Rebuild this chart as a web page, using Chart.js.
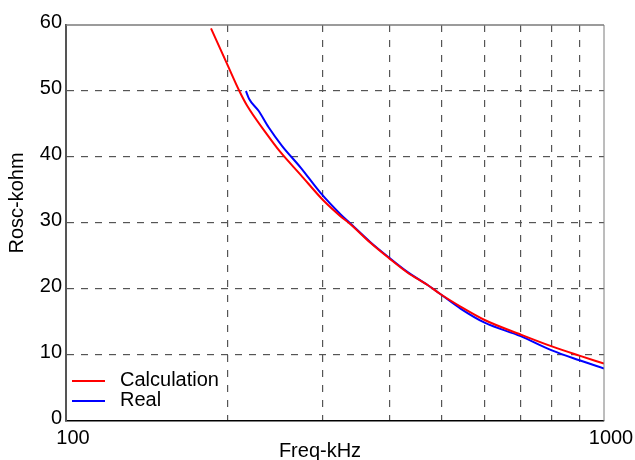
<!DOCTYPE html>
<html>
<head>
<meta charset="utf-8">
<script src="https://cdn.jsdelivr.net/npm/chart.js@4/dist/chart.umd.min.js"></script>
<style>
    html, body { margin: 0; padding: 0; background: #fff; }
    #wrap { width: 635px; height: 460px; }
</style>
</head>
<body>
<div id="wrap"><canvas id="oscChart"></canvas></div>
<script>
// Calculation curve (red)
const calcFreq = [186, 200, 210, 217, 236, 250, 273, 301, 324, 337, 368, 398, 431, 470, 497, 542, 600, 700, 800, 900, 1000];
const calcR = [59.5, 53.8, 50.0, 47.8, 43.5, 40.8, 37.3, 33.4, 31.0, 29.9, 27.0, 24.7, 22.5, 20.6, 19.2, 17.3, 15.3, 13.1, 11.3, 9.9, 8.7];

// Real measurement (blue)
const realFreq = [216, 219, 228, 238, 252, 273, 297, 324, 337, 368, 398, 431, 470, 497, 542, 600, 700, 800, 900, 1000];
const realR = [50.0, 48.8, 47.0, 44.5, 41.7, 38.4, 34.6, 31.3, 30.0, 27.1, 24.8, 22.6, 20.6, 19.2, 17.0, 14.9, 12.85, 10.7, 9.2, 7.95];

// Axis ticks
const freqTicks = [100, 200, 300, 400, 500, 600, 700, 800, 900, 1000];
const freqLabels = [100, 1000];
const rTicks = [0, 10, 20, 30, 40, 50, 60];

const FONT = "'Liberation Sans', Arial, Helvetica, sans-serif";

function toPoints(xs, ys) {
    return xs.map((x, i) => ({ x: x, y: ys[i] }));
}

// Frame, axis titles and legend drawn over the chart
const decorPlugin = {
    id: "decor",
    afterDraw(chart) {
        const ctx = chart.ctx;
        const a = chart.chartArea;
        ctx.save();

        // top and right frame lines
        ctx.strokeStyle = "#7a7a7a";
        ctx.lineWidth = 1.5;
        ctx.beginPath();
        ctx.moveTo(a.left, a.top);
        ctx.lineTo(a.right, a.top);
        ctx.stroke();
        ctx.lineWidth = 1;
        ctx.beginPath();
        ctx.moveTo(a.right, a.top);
        ctx.lineTo(a.right, a.bottom);
        ctx.stroke();

        // axis titles
        ctx.fillStyle = "#000";
        ctx.font = "20px " + FONT;
        ctx.textAlign = "center";
        ctx.textBaseline = "middle";
        ctx.fillText("Freq-kHz", 320, 451);
        ctx.save();
        ctx.translate(17, 203);
        ctx.rotate(-Math.PI / 2);
        ctx.fillText("Rosc-kohm", 0, 0);
        ctx.restore();

        // legend
        const rows = [381, 401];
        chart.data.datasets.forEach((ds, i) => {
            ctx.strokeStyle = ds.borderColor;
            ctx.lineWidth = 2;
            ctx.beginPath();
            ctx.moveTo(72, rows[i]);
            ctx.lineTo(105, rows[i]);
            ctx.stroke();
            ctx.fillStyle = "#000";
            ctx.textAlign = "left";
            ctx.fillText(ds.label, 120, rows[i] - 1);
        });
        ctx.restore();
    }
};

const chart = new Chart(document.getElementById("oscChart"), {
    type: "line",
    data: {
        datasets: [{
            label: "Calculation",
            data: toPoints(calcFreq, calcR),
            borderColor: "#ff0000",
            borderWidth: 2,
            pointRadius: 0,
            cubicInterpolationMode: "monotone",
            fill: false
        }, {
            label: "Real",
            data: toPoints(realFreq, realR),
            borderColor: "#0000ff",
            borderWidth: 2,
            pointRadius: 0,
            cubicInterpolationMode: "monotone",
            fill: false
        }]
    },
    options: {
        responsive: true,
        maintainAspectRatio: false,
        animation: false,
        layout: { padding: { top: 25, right: 31, left: 0, bottom: 0 } },
        plugins: {
            legend: { display: false },
            tooltip: { enabled: false }
        },
        scales: {
            x: {
                type: "logarithmic",
                min: 100,
                max: 1000,
                afterBuildTicks: (scale) => {
                    scale.ticks = freqTicks.map(v => ({ value: v }));
                },
                afterFit: (scale) => { scale.height = 39; },
                ticks: {
                    autoSkip: false,
                    maxRotation: 0,
                    padding: 5,
                    labelOffset: 7,
                    color: "#000",
                    font: { family: FONT, size: 20 },
                    callback: (v) => freqLabels.includes(v) ? String(v) : ""
                },
                grid: {
                    drawTicks: false,
                    lineWidth: 1.2,
                    color: (c) => (c.tick && (c.tick.value === 100 || c.tick.value === 1000)) ? "rgba(0,0,0,0)" : "#555"
                },
                border: { display: true, color: "#000", width: 1.5, dash: [7, 8] }
            },
            y: {
                type: "linear",
                min: 0,
                max: 60,
                afterBuildTicks: (scale) => {
                    scale.ticks = rTicks.map(v => ({ value: v }));
                },
                afterFit: (scale) => { scale.width = 66; },
                ticks: {
                    padding: 4,
                    labelOffset: -3,
                    color: "#000",
                    font: { family: FONT, size: 20 }
                },
                grid: {
                    drawTicks: false,
                    lineWidth: 1.2,
                    color: (c) => (c.tick && (c.tick.value === 0 || c.tick.value === 60)) ? "rgba(0,0,0,0)" : "#555"
                },
                border: { display: true, color: "#555", width: 2, dash: [7, 7] }
            }
        }
    },
    plugins: [decorPlugin]
});
</script>
</body>
</html>
